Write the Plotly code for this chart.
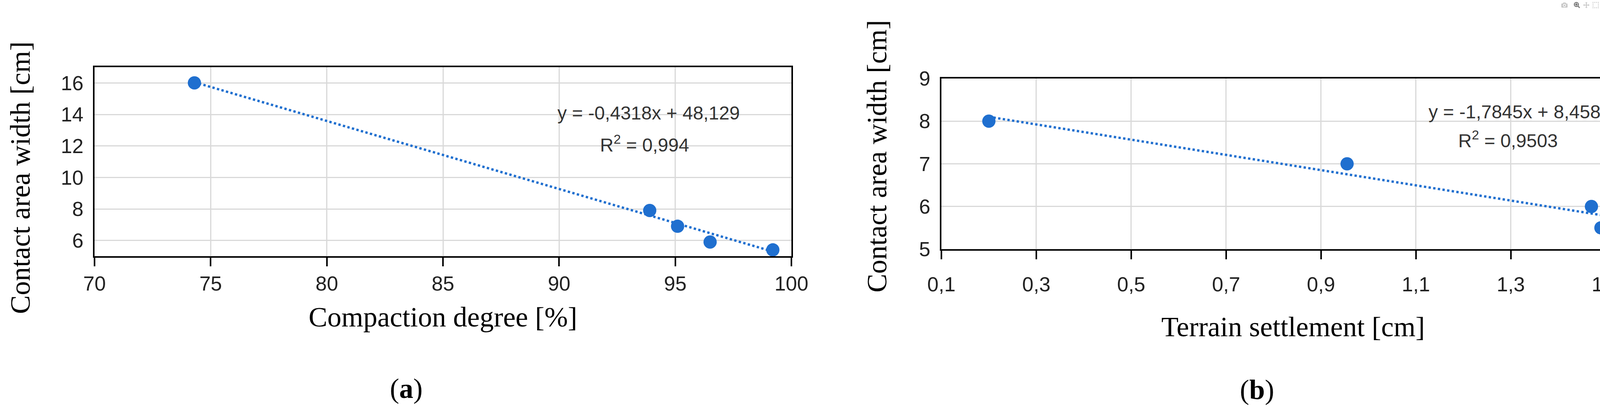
import plotly.graph_objects as go

# Panel (a)
comp_x = [74.3, 93.9, 95.1, 96.5, 99.2]
comp_y = [16.0, 7.9, 6.9, 5.9, 5.4]
comp_slope, comp_icpt = -0.4318, 48.129
# Panel (b)
sett_x = [0.2, 0.955, 1.47, 1.49]
sett_y = [8.0, 7.0, 6.0, 5.5]
sett_slope, sett_icpt = -1.7845, 8.4585

W, H = 4259, 1055
BLUE = "#1f6fcf"
SANS = "Liberation Sans"
SERIF = "Liberation Serif"

fig = go.Figure()
def add_panel(xs, ys, m, b, xa, ya):
    fig.add_trace(go.Scatter(x=xs, y=ys, mode="markers", marker=dict(color=BLUE, size=34),
                             xaxis=xa, yaxis=ya, showlegend=False))
    x0, x1 = min(xs), max(xs)
    fig.add_trace(go.Scatter(x=[x0, x1], y=[m*x0+b, m*x1+b], mode="lines",
                             line=dict(color=BLUE, width=6, dash="dot"),
                             xaxis=xa, yaxis=ya, showlegend=False))
add_panel(comp_x, comp_y, comp_slope, comp_icpt, "x", "y")
add_panel(sett_x, sett_y, sett_slope, sett_icpt, "x2", "y2")

def px(v): return v / W
def py(v): return 1 - v / H

axcommon = dict(showgrid=True, gridcolor="#d9d9d9", gridwidth=3, showline=True, linecolor="black",
                linewidth=4, mirror=True, zeroline=False, automargin=False,
                tickfont=dict(family=SANS, size=52, color="#222"))
fig.update_layout(
    width=W, height=H, margin=dict(l=0, r=0, t=0, b=0), paper_bgcolor="white", plot_bgcolor="white",
    xaxis=dict(domain=[px(242), px(2026)], anchor="y", range=[70, 100], dtick=5, ticks="outside",
               ticklen=22, tickwidth=4, tickcolor="black", **axcommon),
    yaxis=dict(domain=[py(656), py(172)], anchor="x", range=[5, 17], dtick=2, ticklabelstandoff=14, **axcommon),
    xaxis2=dict(domain=[px(2410), px(4232)], anchor="y2", range=[0.1, 1.6], tickvals=[0.1,0.3,0.5,0.7,0.9,1.1,1.3,1.5],
                ticktext=["0,1","0,3","0,5","0,7","0,9","1,1","1,3","1,5"], ticks="outside",
                ticklen=22, tickwidth=4, tickcolor="black", ticklabelstandoff=20, **axcommon),
    yaxis2=dict(domain=[py(638), py(201)], anchor="x2", range=[5, 9], dtick=1, ticklabelstandoff=14, **axcommon),
)

def ann(text, x, y, size, family, angle=0, color="black"):
    fig.add_annotation(text=text, x=px(x), y=py(y), xref="paper", yref="paper", showarrow=False,
                       font=dict(family=family, size=size, color=color), textangle=angle,
                       xanchor="center", yanchor="middle")

ann("y = -0,4318x + 48,129", 1660, 290, 48, SANS, color="#333")
ann("R<sup>2</sup> = 0,994", 1650, 368, 48, SANS, color="#333")
ann("y = -1,7845x + 8,4585", 3890, 286, 48, SANS, color="#333")
ann("R<sup>2</sup> = 0,9503", 3860, 357, 48, SANS, color="#333")
ann("Compaction degree [%]", 1134, 812, 72, SERIF)
ann("Terrain settlement [cm]", 3310, 837, 72, SERIF)
ann("Contact area width [cm]", 52, 455, 72, SERIF, angle=-90)
ann("Contact area width [cm]", 2245, 400, 72, SERIF, angle=-90)
ann("(<b>a</b>)", 1040, 995, 72, SERIF)
ann("(<b>b</b>)", 3218, 998, 72, SERIF)

fig.write_html("out.html", post_script="document.body.style.margin='0';")
